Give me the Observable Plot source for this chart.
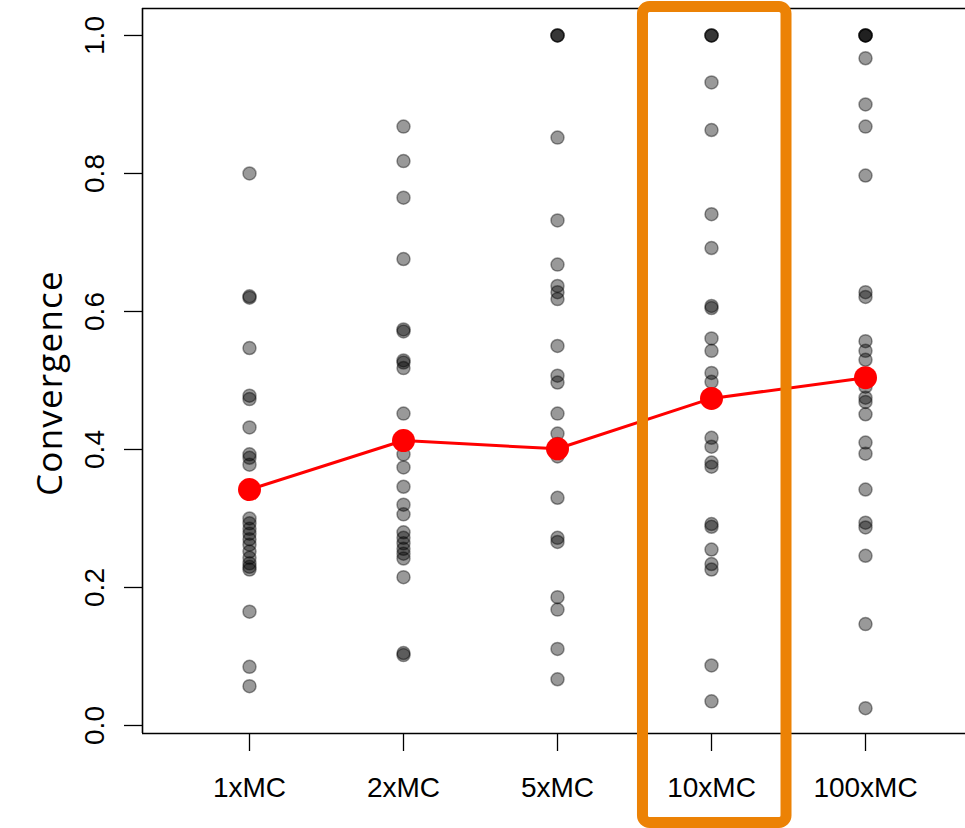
<!DOCTYPE html>
<html>
<head>
<meta charset="utf-8">
<script src="https://cdn.jsdelivr.net/npm/d3@7"></script>
<script src="https://cdn.jsdelivr.net/npm/@observablehq/plot@0.6"></script>
<style>
  html, body { margin: 0; padding: 0; background: #fff; }
  #chart { width: 965px; height: 828px; }
</style>
</head>
<body>
<div id="chart"></div>
<script>
// Sample budgets (multiples of the Monte Carlo baseline)
const categories = ["1xMC", "2xMC", "5xMC", "10xMC", "100xMC"];

// Convergence of each run, per budget
const runs1x = [0.800, 0.622, 0.620, 0.547, 0.478, 0.473, 0.432, 0.393, 0.388, 0.378,
  0.300, 0.293, 0.285, 0.278, 0.270, 0.262, 0.252, 0.243, 0.235, 0.230, 0.226,
  0.165, 0.085, 0.057];
const runs2x = [0.868, 0.818, 0.765, 0.676, 0.574, 0.571, 0.529, 0.526, 0.518, 0.452,
  0.393, 0.374, 0.346, 0.320, 0.306, 0.280, 0.272, 0.264, 0.256, 0.249, 0.242,
  0.215, 0.105, 0.102];
const runs5x = [1.0, 1.0, 1.0, 0.852, 0.732, 0.668, 0.637, 0.628, 0.618, 0.550, 0.507,
  0.497, 0.452, 0.423, 0.408, 0.390, 0.330, 0.272, 0.266, 0.186, 0.168, 0.111, 0.067];
const runs10x = [1.0, 1.0, 1.0, 0.932, 0.863, 0.741, 0.692, 0.608, 0.605, 0.561, 0.543,
  0.511, 0.498, 0.417, 0.404, 0.381, 0.375, 0.292, 0.288, 0.255, 0.234, 0.226,
  0.087, 0.035];
const runs100x = [1.0, 1.0, 1.0, 1.0, 0.967, 0.900, 0.868, 0.797, 0.628, 0.621, 0.557,
  0.543, 0.530, 0.491, 0.475, 0.469, 0.451, 0.410, 0.394, 0.342, 0.294, 0.287,
  0.246, 0.147, 0.025];

// Summary value drawn in red for each budget
const summary = [0.342, 0.413, 0.401, 0.474, 0.504];

// Axis ticks
const yTicks = [0, 0.2, 0.4, 0.6, 0.8, 1.0];
const xTicks = [1, 2, 3, 4, 5];

// Extents of the plotting region
const xDomain = [0.3052, 5.6493];
const yDomain = [-0.0116, 1.0391];

// Highlighted budget (10xMC): horizontal extent and vertical reach
const highlight = [{x1: 3.555, x2: 4.487, y1: -0.1413, y2: 1.0413}];

const groups = [runs1x, runs2x, runs5x, runs10x, runs100x];
const points = groups.flatMap((vals, i) => vals.map(v => ({x: i + 1, y: v})));
const means = summary.map((v, i) => ({x: i + 1, y: v}));

const tickFont = "'Liberation Sans', Arial, Helvetica, sans-serif";

const chart = Plot.plot({
  width: 965,
  height: 828,
  marginLeft: 142,
  marginRight: 0,
  marginTop: 8,
  marginBottom: 95,
  style: {background: "#fff", color: "#000"},
  x: {domain: xDomain, axis: null},
  y: {domain: yDomain, axis: null},
  marks: [
    // box around the plotting region (open on the right)
    Plot.ruleY(yDomain, {stroke: "#000", strokeWidth: 1.6}),
    Plot.ruleX([xDomain[0]], {stroke: "#000", strokeWidth: 1.6}),
    // axes
    Plot.axisX({
      ticks: xTicks,
      tickFormat: d => categories[d - 1],
      tickSize: 18,
      tickPadding: 26,
      fontSize: 28,
      fontFamily: tickFont,
      strokeWidth: 1.3
    }),
    Plot.axisY({
      ticks: yTicks,
      tickSize: 18,
      tickFormat: () => "",
      strokeWidth: 1.3
    }),
    // rotated y tick labels
    Plot.text(yTicks, {
      y: d => d,
      text: d => d.toFixed(1),
      frameAnchor: "left",
      textAnchor: "middle",
      lineAnchor: "middle",
      rotate: -90,
      dx: -47,
      fontSize: 28,
      fontFamily: tickFont,
      fill: "#000"
    }),
    Plot.text(["Convergence"], {
      frameAnchor: "left",
      textAnchor: "middle",
      lineAnchor: "middle",
      rotate: -90,
      dx: -92,
      dy: 12,
      fontSize: 35,
      fontFamily: "'Open Sans', sans-serif",
      fill: "#000",
      style: "letter-spacing: 1.2px"
    }),
    // individual runs
    Plot.dot(points, {
      x: "x",
      y: "y",
      r: 6.5,
      fill: "#000",
      fillOpacity: 0.4,
      stroke: "#000",
      strokeOpacity: 0.4,
      strokeWidth: 1.5
    }),
    // summary line
    Plot.line(means, {x: "x", y: "y", stroke: "#ff0000", strokeWidth: 3}),
    Plot.dot(means, {x: "x", y: "y", r: 11.5, fill: "#ff0000", stroke: "none"}),
    // highlight box
    Plot.rect(highlight, {
      x1: "x1", x2: "x2", y1: "y1", y2: "y2",
      fill: "none",
      stroke: "#ec8205",
      strokeWidth: 11,
      rx: 7
    })
  ]
});

// letter spacing for the axis title
d3.select(chart).selectAll("text")
  .filter(function () { return this.textContent === "Convergence"; })
  .style("letter-spacing", "1.2px");

document.getElementById("chart").appendChild(chart);
</script>
</body>
</html>
